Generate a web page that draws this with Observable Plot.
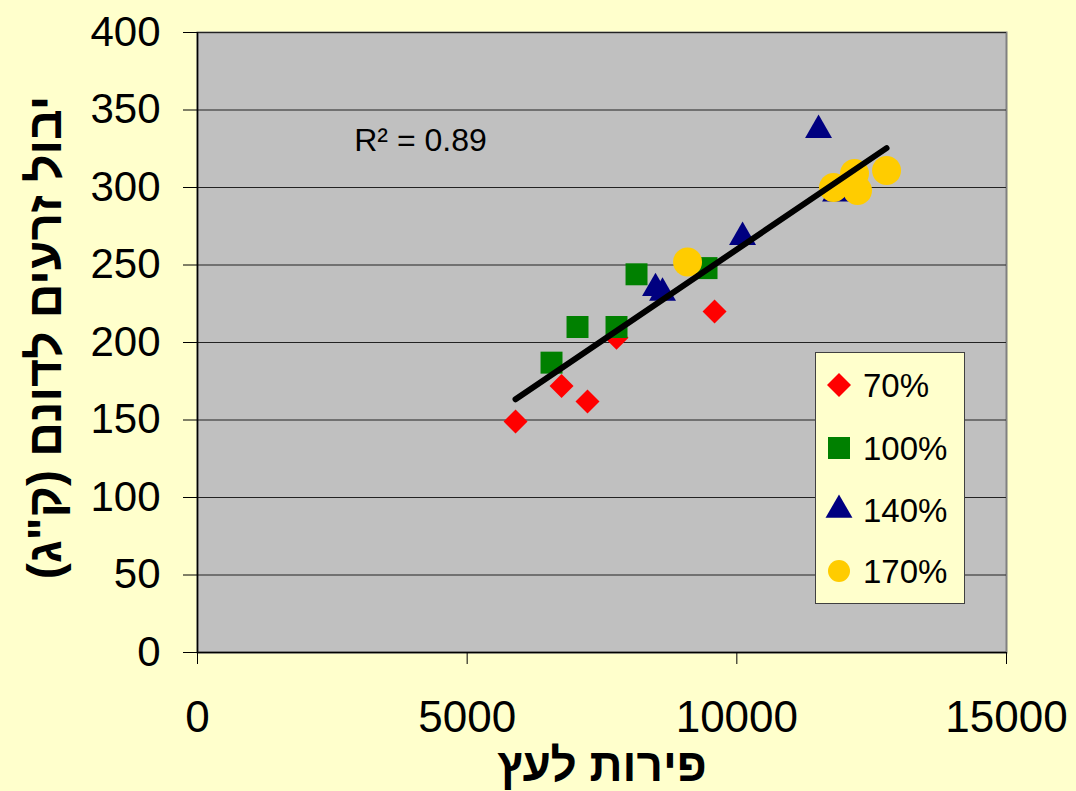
<!DOCTYPE html>
<html><head><meta charset="utf-8">
<script src="https://cdn.jsdelivr.net/npm/d3@7"></script>
<script src="https://cdn.jsdelivr.net/npm/@observablehq/plot@0.6"></script>
<style>
html,body{margin:0;padding:0;background:#FFFFCC;}
#wrap{position:relative;width:1076px;height:791px;overflow:hidden;font-family:"Liberation Sans",Arial,sans-serif;}
#legend{position:absolute;left:815px;top:352px;width:148px;height:250px;background:#FFFFCC;border:1px solid #404040;}
</style></head><body><div id="wrap"></div>
<script>
// ---- data ----
const xTicks = [0, 5000, 10000, 15000];
const yTicks = [0, 50, 100, 150, 200, 250, 300, 350, 400];
const series = ["70%", "100%", "140%", "170%"];
const pts70  = [[5897,149],[6750,172],[7231,162],[7769,203],[9587,220]];
const pts100 = [[6564,187],[7046,210],[7769,210],[8140,244],[9438,248]];
const pts140 = [[8492,235],[8622,232],[10106,268],[11515,337],[11830,296]];
const pts170 = [[9086,252],[11793,300],[12182,309],[12238,298],[12776,311]];
const r2Label = "R\u00B2 = 0.89";
const xTitle = "פירות לעץ";
const yTitle = 'יבול זרעים לדונם (ק"ג)';

// ---- styles ----
const seriesData = [pts70, pts100, pts140, pts170];
const symbols = ["diamond2", "square", "triangle", "circle"];
const colors = ["#FF0000", "#008000", "#000080", "#FFCC00"];
const radii = [10.8, 12.4, 10, 14.5];
const legendRadii = [10.8, 12.4, 10, 11];

const rows = series.flatMap((s, i) => seriesData[i].map(([x, y]) => ({s, x, y})));
const font = "'Liberation Sans', Arial, sans-serif";

const dots = series.map((s, i) => Plot.dot(rows.filter(d => d.s === s), {
  x: "x", y: "y", symbol: () => symbols[i], fill: colors[i], stroke: "none", r: radii[i]
}));

const chart = Plot.plot({
  width: 1076, height: 791,
  marginLeft: 197, marginRight: 70, marginTop: 32, marginBottom: 139,
  style: {background: "transparent", fontFamily: font, color: "#000", overflow: "visible"},
  x: {domain: [0, 15000]},
  y: {domain: [0, 400]},
  symbol: {type: "identity"},
  marks: [
    Plot.frame({fill: "#C0C0C0", stroke: "#808080", strokeWidth: 2}),
    Plot.gridY(yTicks, {stroke: "#222", strokeOpacity: 1, strokeWidth: 1.2}),
    Plot.ruleY([0], {stroke: "#000", strokeWidth: 1.5}),
    Plot.ruleX([0], {stroke: "#000", strokeWidth: 1.5}),
    Plot.axisX(xTicks, {tickSize: 12, tickPadding: 36, fontSize: 44, tickFormat: "d", label: null, stroke: "#000"}),
    Plot.axisY(yTicks, {tickSize: 14, tickPadding: 23, fontSize: 42, tickFormat: "d", label: null, stroke: "#000"}),
    ...dots,
    Plot.linearRegressionY(rows, {x: "x", y: "y", stroke: "#000", strokeWidth: 6, ci: 0}),
    Plot.text([r2Label], {text: d => d, frameAnchor: "top-left", dx: 223, dy: 108, fontSize: 32, fill: "#000", textAnchor: "middle", lineAnchor: "middle"}),
    Plot.text([xTitle], {text: d => d, frameAnchor: "bottom", dy: 114, fontSize: 46, fontWeight: "bold", fill: "#000", textAnchor: "middle", lineAnchor: "middle"}),
    Plot.text([yTitle], {text: d => d, frameAnchor: "left", dx: -152, dy: -5, rotate: -90, fontSize: 48, fontWeight: "bold", fill: "#000", textAnchor: "middle", lineAnchor: "middle"})
  ]
});
const wrap = document.getElementById("wrap");
wrap.appendChild(chart);

// ---- legend ----
const leg = d3.select(wrap).append("div").attr("id", "legend");
const lsvg = leg.append("svg").attr("width", 148).attr("height", 250);
const symMap = {diamond2: d3.symbolDiamond2, square: d3.symbolSquare, triangle: d3.symbolTriangle, circle: d3.symbolCircle};
const rowY = [32, 95, 157, 218];
series.forEach((s, i) => {
  const g = lsvg.append("g").attr("transform", `translate(23,${rowY[i]})`);
  g.append("path")
    .attr("d", d3.symbol(symMap[symbols[i]], Math.PI * legendRadii[i] ** 2)())
    .attr("fill", colors[i]);
  g.append("text").attr("x", 24).attr("y", 0).attr("dy", "0.35em")
    .attr("font-family", font).attr("font-size", 33).attr("fill", "#000").text(s);
});
</script>
</body></html>
